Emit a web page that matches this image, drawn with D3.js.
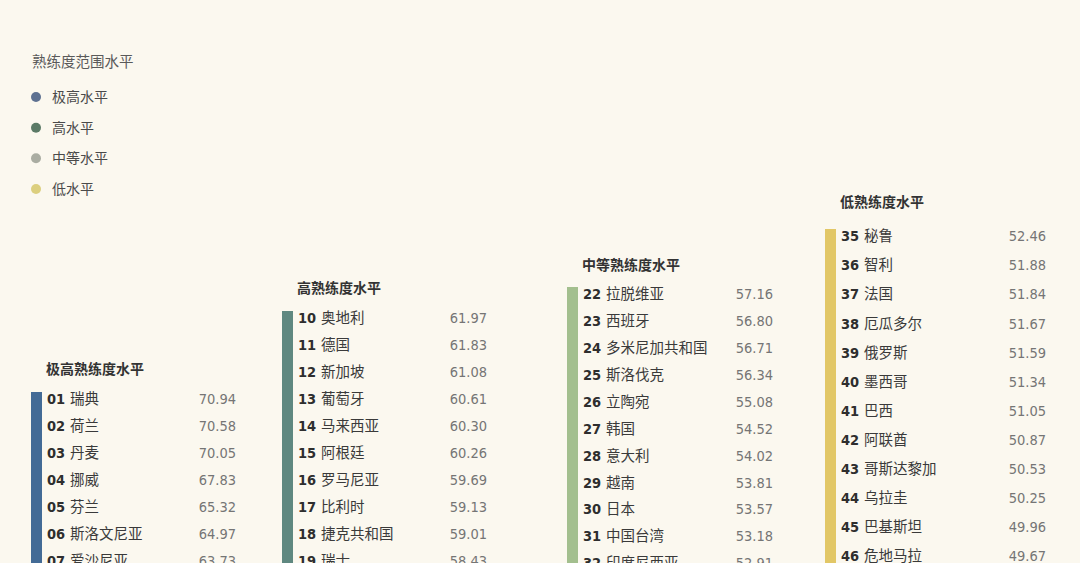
<!DOCTYPE html>
<html><head><meta charset="utf-8">
<script src="https://cdn.jsdelivr.net/npm/d3@7"></script>
<style>
html,body{margin:0;padding:0;background:#fbf8ef;overflow:hidden}
svg{display:block}
</style></head>
<body>
<svg id="c" width="1080" height="563"></svg>
<script>
// ---- data ----
const legendTitle = "熟练度范围水平";
const levelLabels = ["极高水平", "高水平", "中等水平", "低水平"];
const groupTitles = ["极高熟练度水平", "高熟练度水平", "中等熟练度水平", "低熟练度水平"];

const ranks1 = ["01","02","03","04","05","06","07"];
const names1 = ["瑞典","荷兰","丹麦","挪威","芬兰","斯洛文尼亚","爱沙尼亚"];
const values1 = [70.94,70.58,70.05,67.83,65.32,64.97,63.73];

const ranks2 = ["10","11","12","13","14","15","16","17","18","19"];
const names2 = ["奥地利","德国","新加坡","葡萄牙","马来西亚","阿根廷","罗马尼亚","比利时","捷克共和国","瑞士"];
const values2 = [61.97,61.83,61.08,60.61,60.30,60.26,59.69,59.13,59.01,58.43];

const ranks3 = ["22","23","24","25","26","27","28","29","30","31","32"];
const names3 = ["拉脱维亚","西班牙","多米尼加共和国","斯洛伐克","立陶宛","韩国","意大利","越南","日本","中国台湾","印度尼西亚"];
const values3 = [57.16,56.80,56.71,56.34,55.08,54.52,54.02,53.81,53.57,53.18,52.91];

const ranks4 = ["35","36","37","38","39","40","41","42","43","44","45","46"];
const names4 = ["秘鲁","智利","法国","厄瓜多尔","俄罗斯","墨西哥","巴西","阿联酋","哥斯达黎加","乌拉圭","巴基斯坦","危地马拉"];
const values4 = [52.46,51.88,51.84,51.67,51.59,51.34,51.05,50.87,50.53,50.25,49.96,49.67];

// ---- style / layout ----
const legendColors = ["#5d7191", "#5b7a66", "#aaada2", "#dccf7e"];
const barColors = ["#436b96", "#5f8880", "#a3bf8e", "#e2c766"];
const cols = [
  {x:31, titleY:369, firstY:399, step:27},
  {x:282, titleY:288, firstY:318, step:27},
  {x:567, titleY:265, firstY:294, step:26.9},
  {x:825, titleY:202, firstY:236, step:29.1}
];
const valueRight = [236, 487, 773, 1046];
const groups = [
  {ranks:ranks1, names:names1, values:values1},
  {ranks:ranks2, names:names2, values:values2},
  {ranks:ranks3, names:names3, values:values3},
  {ranks:ranks4, names:names4, values:values4}
];

const CJK = "'Noto Sans CJK SC', 'Noto Sans', sans-serif";
const NUM = "'DejaVu Sans Condensed', 'Liberation Sans Narrow', 'Roboto', sans-serif";

const svg = d3.select("#c");

// legend
const lg = svg.append("g");
lg.append("text").attr("x", 32).attr("y", 62).attr("dy", "0.35em")
  .attr("font-family", CJK).attr("font-size", 14.5).attr("fill", "#5a5a5a")
  .text(legendTitle);
const ly = d3.scalePoint().domain(levelLabels).range([97, 189]);
const li = lg.selectAll("g.li").data(levelLabels).join("g").attr("class","li")
  .attr("transform", d => `translate(0,${ly(d)})`);
li.append("circle").attr("cx", 36).attr("cy", 0).attr("r", 5)
  .attr("fill", (d,i) => legendColors[i]);
li.append("text").attr("x", 52).attr("dy", "0.35em")
  .attr("font-family", CJK).attr("font-size", 14).attr("fill", "#4a4a4a")
  .text(d => d);

// columns
groups.forEach((g, gi) => {
  const c = cols[gi];
  const n = g.ranks.length;
  const y = d3.scaleLinear().domain([0, 1]).range([c.firstY, c.firstY + c.step]);
  const col = svg.append("g");
  col.append("text").attr("x", c.x + 15).attr("y", c.titleY).attr("dy", "0.35em")
    .attr("font-family", CJK).attr("font-size", 14).attr("font-weight", 700).attr("fill", "#333")
    .text(groupTitles[gi]);
  col.append("rect").attr("x", c.x).attr("y", y(0) - 7).attr("width", 11)
    .attr("height", y(n) - y(0) + 20).attr("fill", barColors[gi]);
  const rows = col.selectAll("g.row").data(d3.range(n)).join("g").attr("class","row")
    .attr("transform", i => `translate(0,${y(i)})`);
  rows.append("text").attr("x", c.x + 16).attr("dy", "0.36em")
    .attr("font-family", NUM).attr("font-size", 14.5).attr("font-weight", 700).attr("fill", "#2e2e2e")
    .text(i => g.ranks[i]);
  rows.append("text").attr("x", c.x + 39).attr("dy", "0.36em")
    .attr("font-family", CJK).attr("font-size", 14.5).attr("fill", "#3a3a3a")
    .text(i => g.names[i]);
  rows.append("text").attr("x", valueRight[gi]).attr("dy", "0.36em").attr("text-anchor", "end")
    .attr("font-family", NUM).attr("font-size", 14.5).attr("fill", "#757575")
    .text(i => d3.format(".2f")(g.values[i]));
});
</script>
</body></html>
